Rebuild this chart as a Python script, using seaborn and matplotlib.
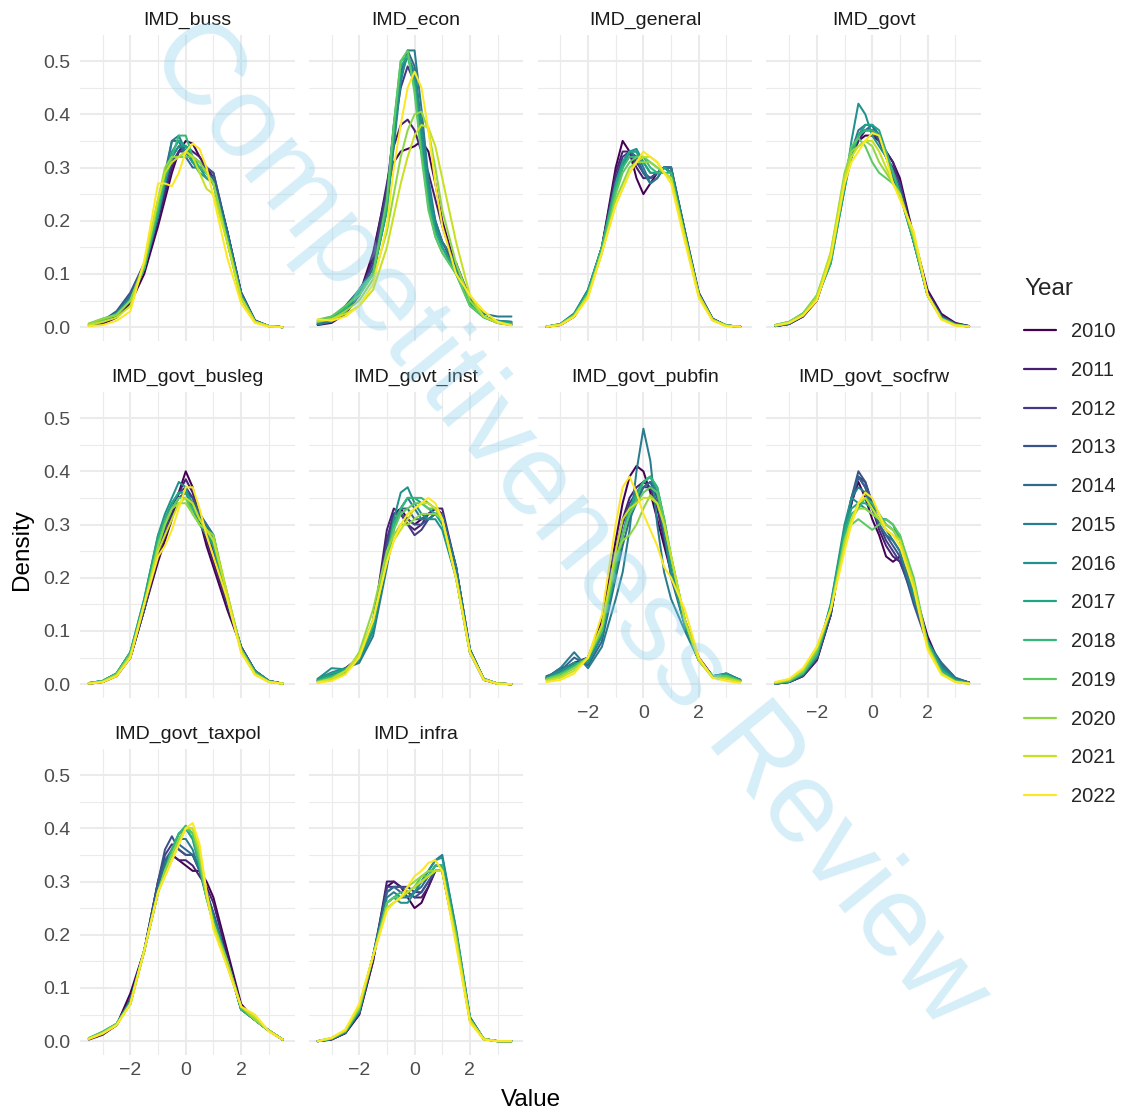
import matplotlib
matplotlib.use("Agg")
import matplotlib.pyplot as plt
from matplotlib.lines import Line2D
import numpy as np
import pandas as pd
import seaborn as sns

# grille commune des valeurs (axe x) ou la densite est lue
x_grid = [-3.5, -3, -2.5, -2, -1.5, -1, -0.75, -0.5, -0.25, 0, 0.25, 0.5, 0.75, 1, 1.5, 2, 2.5, 3, 3.5]
years = [str(y) for y in range(2010, 2023)]
indicators = ["IMD_buss", "IMD_econ", "IMD_general", "IMD_govt",
              "IMD_govt_busleg", "IMD_govt_inst", "IMD_govt_pubfin", "IMD_govt_socfrw",
              "IMD_govt_taxpol", "IMD_infra"]

# une ligne par annee (2010 -> 2022)
buss = [
    [.003, .006, .018, .045, .10, .19, .24, .29, .33, .35, .345, .32, .30, .28, .18, .065, .012, .002, 0],
    [.004, .008, .022, .055, .11, .20, .25, .30, .33, .34, .33, .32, .30, .28, .18, .065, .012, .002, 0],
    [.004, .01, .026, .06, .11, .21, .26, .31, .33, .33, .32, .31, .30, .29, .18, .06, .012, .002, 0],
    [.005, .012, .03, .065, .12, .21, .27, .32, .34, .33, .31, .30, .30, .29, .18, .065, .013, .002, 0],
    [.004, .01, .028, .06, .11, .22, .29, .35, .35, .32, .30, .30, .29, .28, .18, .065, .012, .002, 0],
    [.004, .01, .025, .055, .11, .21, .28, .35, .36, .33, .31, .30, .29, .27, .17, .06, .011, .002, 0],
    [.005, .012, .026, .055, .11, .21, .27, .32, .34, .34, .32, .30, .28, .27, .17, .06, .011, .002, 0],
    [.006, .014, .025, .05, .11, .22, .28, .33, .35, .34, .31, .29, .28, .27, .17, .06, .011, .002, 0],
    [.006, .016, .024, .05, .11, .22, .28, .32, .36, .36, .32, .30, .29, .27, .16, .055, .01, .002, 0],
    [.006, .014, .024, .05, .115, .23, .29, .32, .32, .32, .32, .31, .29, .27, .16, .055, .01, .002, 0],
    [.007, .016, .022, .05, .12, .24, .30, .32, .32, .33, .32, .31, .29, .27, .16, .055, .01, .002, 0],
    [.004, .01, .018, .04, .12, .24, .29, .31, .32, .33, .32, .29, .26, .25, .16, .055, .01, .002, 0],
    [.002, .004, .012, .03, .125, .27, .27, .265, .29, .33, .345, .335, .30, .245, .13, .045, .008, .001, 0],
]
econ = [
    [.004, .008, .025, .06, .14, .26, .31, .33, .335, .34, .35, .33, .27, .20, .11, .05, .02, .008, .004],
    [.005, .012, .03, .06, .13, .27, .34, .38, .39, .37, .33, .29, .24, .19, .11, .05, .02, .01, .005],
    [.006, .014, .035, .065, .12, .26, .37, .45, .49, .46, .36, .26, .20, .16, .11, .05, .02, .01, .006],
    [.008, .016, .04, .07, .11, .25, .38, .48, .51, .47, .36, .25, .19, .16, .12, .055, .02, .01, .008],
    [.006, .012, .035, .07, .11, .23, .36, .47, .52, .49, .38, .26, .19, .16, .12, .05, .02, .012, .01],
    [.005, .01, .03, .065, .10, .22, .34, .46, .52, .52, .41, .28, .20, .16, .12, .05, .025, .02, .02],
    [.008, .015, .03, .06, .10, .22, .35, .47, .51, .48, .37, .26, .19, .15, .11, .05, .02, .012, .01],
    [.01, .016, .03, .07, .10, .22, .37, .49, .51, .46, .34, .24, .18, .15, .10, .045, .02, .01, .008],
    [.012, .02, .035, .07, .10, .23, .38, .50, .51, .45, .33, .23, .17, .14, .10, .04, .018, .008, .005],
    [.014, .02, .04, .06, .10, .24, .38, .50, .52, .44, .32, .22, .17, .14, .10, .04, .02, .01, .005],
    [.01, .015, .03, .05, .09, .18, .25, .32, .37, .40, .405, .37, .30, .22, .12, .05, .02, .008, .004],
    [.012, .015, .025, .04, .07, .15, .21, .27, .32, .36, .38, .375, .34, .28, .16, .06, .02, .008, .004],
    [.015, .012, .02, .04, .08, .19, .30, .38, .45, .48, .45, .37, .27, .19, .10, .06, .03, .01, .003],
]
general = [
    [.001, .004, .02, .06, .15, .30, .35, .33, .28, .25, .27, .29, .30, .29, .17, .06, .015, .003, .001],
    [.001, .004, .02, .06, .15, .29, .33, .33, .30, .28, .28, .29, .30, .29, .17, .06, .015, .003, .001],
    [.001, .005, .022, .065, .15, .28, .32, .33, .31, .29, .28, .29, .30, .30, .18, .065, .016, .003, .001],
    [.001, .005, .022, .065, .15, .27, .31, .33, .32, .29, .28, .29, .30, .30, .18, .065, .016, .003, .001],
    [.001, .005, .024, .07, .15, .27, .31, .33, .32, .29, .27, .28, .30, .30, .18, .06, .015, .003, .001],
    [.001, .006, .025, .07, .15, .26, .30, .33, .33, .30, .27, .28, .30, .30, .18, .06, .015, .003, .001],
    [.001, .006, .026, .07, .15, .26, .30, .33, .335, .31, .29, .29, .30, .29, .17, .06, .014, .003, .001],
    [.001, .005, .024, .065, .15, .27, .31, .33, .33, .31, .29, .29, .30, .29, .17, .06, .014, .003, .001],
    [.001, .005, .023, .065, .15, .26, .30, .32, .32, .32, .30, .29, .29, .29, .17, .06, .014, .003, .001],
    [.001, .005, .022, .06, .14, .25, .29, .31, .32, .32, .31, .30, .29, .28, .17, .06, .014, .003, .001],
    [.001, .005, .022, .06, .14, .24, .27, .30, .31, .31, .31, .30, .29, .28, .17, .06, .014, .003, .001],
    [.001, .004, .02, .06, .14, .23, .26, .29, .31, .32, .32, .31, .29, .28, .17, .06, .013, .002, .001],
    [.001, .004, .02, .055, .14, .23, .26, .29, .31, .33, .32, .31, .29, .27, .16, .055, .012, .002, .001],
]
govt = [
    [.002, .006, .02, .05, .13, .27, .32, .35, .36, .36, .35, .33, .31, .28, .17, .07, .025, .008, .002],
    [.002, .006, .02, .05, .13, .27, .32, .35, .37, .37, .35, .33, .31, .27, .17, .065, .022, .007, .002],
    [.002, .006, .022, .055, .13, .27, .32, .36, .37, .37, .35, .32, .30, .27, .16, .065, .02, .006, .002],
    [.002, .006, .022, .055, .13, .27, .33, .36, .38, .38, .35, .32, .29, .26, .16, .06, .02, .006, .002],
    [.002, .007, .022, .055, .13, .27, .33, .36, .37, .38, .36, .32, .29, .26, .16, .06, .02, .005, .002],
    [.002, .007, .022, .055, .13, .26, .33, .37, .38, .38, .36, .32, .28, .25, .16, .06, .018, .005, .001],
    [.003, .008, .024, .055, .12, .26, .35, .42, .40, .36, .34, .32, .29, .25, .16, .06, .018, .005, .001],
    [.003, .008, .024, .055, .12, .26, .32, .36, .38, .38, .37, .33, .29, .25, .16, .06, .017, .005, .001],
    [.004, .01, .026, .055, .12, .27, .33, .36, .37, .37, .36, .33, .29, .25, .16, .06, .016, .004, .001],
    [.004, .01, .026, .06, .13, .28, .34, .355, .34, .31, .29, .28, .27, .25, .17, .06, .016, .004, .001],
    [.004, .01, .025, .06, .14, .29, .33, .34, .35, .34, .31, .29, .27, .25, .17, .06, .016, .004, .001],
    [.003, .008, .022, .055, .14, .28, .32, .34, .35, .35, .33, .30, .27, .25, .17, .06, .015, .004, .001],
    [.003, .008, .022, .05, .13, .27, .31, .33, .35, .365, .36, .32, .27, .24, .18, .06, .014, .003, .001],
]
govt_busleg = [
    [.001, .004, .015, .05, .14, .23, .27, .31, .36, .40, .37, .31, .26, .22, .14, .07, .025, .006, .001],
    [.001, .004, .016, .05, .14, .24, .28, .32, .36, .385, .36, .31, .27, .23, .15, .07, .025, .006, .001],
    [.001, .005, .018, .05, .14, .25, .29, .33, .36, .37, .35, .32, .29, .25, .15, .07, .025, .006, .001],
    [.001, .005, .018, .055, .14, .25, .30, .33, .35, .36, .35, .32, .30, .27, .16, .07, .025, .006, .001],
    [.002, .006, .02, .055, .15, .26, .30, .33, .35, .36, .34, .32, .30, .28, .16, .07, .025, .006, .001],
    [.002, .006, .02, .06, .15, .27, .31, .34, .36, .36, .33, .31, .30, .28, .16, .065, .025, .006, .001],
    [.002, .006, .02, .06, .16, .28, .32, .35, .38, .37, .33, .30, .28, .26, .16, .065, .025, .006, .001],
    [.002, .006, .02, .06, .16, .28, .31, .34, .36, .36, .34, .31, .29, .26, .16, .065, .022, .005, .001],
    [.002, .006, .02, .06, .15, .27, .31, .33, .35, .35, .33, .31, .29, .27, .16, .065, .022, .005, .001],
    [.002, .005, .018, .055, .15, .26, .30, .33, .35, .35, .32, .30, .29, .27, .17, .065, .02, .005, .001],
    [.002, .005, .018, .055, .15, .26, .30, .33, .34, .34, .32, .30, .29, .28, .17, .065, .02, .004, .001],
    [.001, .004, .016, .05, .15, .25, .28, .31, .34, .35, .34, .31, .29, .27, .17, .06, .018, .004, .001],
    [.001, .004, .015, .05, .15, .24, .26, .29, .33, .37, .37, .33, .28, .24, .16, .06, .018, .004, .001],
]
govt_inst = [
    [.008, .02, .03, .05, .12, .27, .32, .33, .31, .30, .31, .32, .33, .32, .21, .06, .008, .001, 0],
    [.006, .015, .025, .05, .11, .29, .33, .32, .30, .29, .30, .32, .33, .33, .22, .06, .008, .001, 0],
    [.006, .015, .025, .05, .11, .27, .32, .32, .30, .28, .29, .31, .32, .32, .22, .065, .009, .001, 0],
    [.006, .015, .025, .05, .11, .26, .31, .32, .31, .30, .30, .31, .32, .32, .22, .065, .009, .001, 0],
    [.008, .018, .028, .045, .10, .24, .30, .33, .33, .31, .31, .32, .32, .32, .22, .065, .01, .001, 0],
    [.01, .022, .03, .04, .09, .22, .29, .33, .35, .33, .31, .31, .32, .31, .22, .065, .01, .001, 0],
    [.01, .03, .028, .045, .10, .24, .31, .36, .37, .34, .32, .31, .31, .29, .20, .06, .01, .001, 0],
    [.008, .02, .028, .05, .11, .24, .30, .33, .35, .35, .34, .33, .32, .30, .20, .06, .01, .001, 0],
    [.006, .015, .025, .05, .11, .24, .30, .33, .35, .35, .35, .34, .33, .31, .20, .06, .009, .001, 0],
    [.005, .012, .025, .055, .12, .24, .29, .32, .33, .34, .34, .33, .33, .31, .20, .06, .009, .001, 0],
    [.003, .008, .02, .06, .14, .25, .28, .30, .30, .31, .32, .32, .32, .31, .20, .06, .009, .001, 0],
    [.004, .01, .025, .055, .12, .23, .27, .29, .31, .33, .34, .34, .33, .31, .20, .06, .009, .001, 0],
    [.003, .006, .018, .05, .12, .23, .27, .30, .32, .33, .34, .35, .34, .31, .20, .06, .008, .001, 0],
]
govt_pubfin = [
    [.01, .025, .04, .05, .12, .27, .34, .39, .41, .40, .36, .31, .26, .21, .12, .05, .015, .015, .006],
    [.012, .03, .035, .05, .11, .25, .31, .35, .37, .38, .37, .33, .27, .21, .12, .05, .015, .015, .006],
    [.012, .025, .04, .045, .10, .24, .30, .34, .36, .37, .37, .34, .28, .21, .11, .045, .015, .018, .008],
    [.015, .02, .04, .04, .09, .22, .28, .33, .35, .37, .38, .35, .28, .21, .11, .045, .015, .018, .008],
    [.015, .025, .05, .035, .08, .20, .26, .31, .34, .37, .38, .36, .29, .20, .11, .045, .015, .02, .008],
    [.012, .03, .06, .03, .07, .16, .21, .29, .40, .48, .42, .30, .21, .16, .10, .045, .015, .02, .008],
    [.012, .025, .04, .04, .09, .21, .28, .33, .36, .38, .39, .36, .29, .21, .11, .045, .015, .02, .008],
    [.01, .02, .035, .045, .10, .22, .28, .33, .36, .38, .39, .37, .31, .23, .11, .045, .015, .018, .006],
    [.01, .02, .035, .05, .10, .22, .28, .32, .35, .38, .39, .37, .31, .24, .12, .045, .015, .016, .006],
    [.01, .018, .03, .05, .10, .23, .28, .32, .34, .36, .37, .36, .31, .24, .12, .045, .015, .015, .006],
    [.008, .015, .03, .05, .11, .24, .27, .28, .30, .33, .355, .34, .30, .24, .12, .045, .012, .012, .005],
    [.006, .012, .025, .05, .11, .25, .31, .33, .34, .35, .35, .34, .30, .24, .12, .045, .012, .01, .004],
    [.004, .008, .02, .05, .13, .30, .37, .39, .36, .32, .29, .26, .22, .20, .14, .05, .012, .006, .002],
]
govt_socfrw = [
    [.001, .004, .015, .045, .13, .28, .34, .38, .35, .31, .28, .24, .23, .24, .18, .09, .03, .01, .003],
    [.001, .004, .015, .045, .13, .28, .34, .39, .37, .33, .29, .26, .24, .23, .17, .085, .03, .01, .003],
    [.001, .004, .016, .05, .13, .28, .34, .39, .38, .34, .30, .27, .25, .23, .16, .08, .035, .01, .003],
    [.001, .004, .016, .05, .13, .28, .35, .40, .38, .34, .30, .28, .26, .24, .15, .075, .04, .012, .003],
    [.001, .005, .018, .05, .14, .29, .35, .39, .37, .33, .30, .28, .27, .25, .16, .08, .04, .012, .003],
    [.001, .005, .018, .05, .14, .29, .35, .37, .36, .33, .31, .29, .27, .25, .16, .08, .035, .01, .003],
    [.001, .005, .02, .055, .15, .30, .35, .34, .33, .32, .31, .31, .30, .27, .17, .08, .03, .008, .002],
    [.002, .006, .02, .055, .15, .29, .33, .34, .34, .33, .31, .30, .29, .27, .18, .08, .028, .007, .002],
    [.002, .006, .02, .055, .14, .28, .32, .33, .35, .34, .32, .30, .29, .28, .19, .075, .025, .006, .002],
    [.002, .006, .022, .06, .14, .27, .30, .31, .30, .29, .30, .31, .30, .28, .20, .075, .02, .005, .001],
    [.003, .008, .025, .065, .14, .27, .31, .33, .33, .32, .31, .30, .29, .27, .19, .07, .02, .005, .001],
    [.003, .009, .028, .07, .14, .26, .31, .34, .35, .33, .31, .29, .28, .27, .19, .07, .02, .004, .001],
    [.004, .01, .03, .07, .14, .25, .30, .34, .36, .35, .32, .29, .28, .26, .18, .065, .018, .004, .001],
]
govt_taxpol = [
    [.003, .012, .03, .09, .17, .29, .33, .35, .34, .33, .32, .32, .30, .27, .17, .07, .04, .02, .003],
    [.004, .014, .03, .08, .17, .30, .34, .35, .34, .34, .33, .31, .29, .26, .16, .065, .04, .02, .003],
    [.004, .015, .03, .075, .17, .30, .35, .37, .36, .35, .35, .32, .28, .24, .15, .06, .04, .02, .003],
    [.004, .015, .03, .075, .17, .30, .36, .385, .36, .35, .35, .33, .28, .24, .15, .06, .04, .02, .003],
    [.005, .016, .032, .075, .17, .29, .34, .36, .37, .36, .35, .32, .28, .24, .15, .06, .04, .02, .003],
    [.005, .016, .032, .075, .17, .28, .33, .36, .38, .38, .36, .32, .27, .23, .15, .06, .04, .02, .003],
    [.005, .017, .032, .075, .17, .28, .32, .36, .39, .40, .38, .33, .27, .23, .15, .06, .04, .02, .003],
    [.005, .017, .032, .075, .17, .28, .32, .36, .39, .40, .38, .33, .27, .23, .15, .06, .04, .02, .003],
    [.006, .018, .033, .07, .17, .28, .32, .36, .39, .405, .39, .33, .27, .22, .15, .06, .04, .02, .003],
    [.005, .016, .032, .07, .17, .28, .32, .35, .38, .40, .39, .34, .27, .22, .15, .065, .04, .02, .003],
    [.005, .016, .032, .07, .17, .28, .32, .35, .38, .40, .40, .35, .27, .22, .15, .065, .04, .02, .003],
    [.005, .015, .03, .07, .17, .28, .31, .34, .37, .40, .40, .36, .28, .22, .14, .065, .045, .02, .003],
    [.004, .014, .03, .07, .17, .28, .31, .34, .37, .40, .41, .37, .28, .21, .14, .065, .05, .018, .003],
]
infra = [
    [0, .003, .015, .05, .15, .29, .30, .29, .27, .25, .26, .29, .32, .32, .19, .04, .004, 0, 0],
    [0, .003, .015, .05, .15, .30, .30, .29, .28, .27, .27, .29, .32, .32, .19, .04, .004, 0, 0],
    [0, .004, .016, .055, .16, .29, .29, .29, .29, .28, .28, .30, .32, .32, .19, .04, .004, 0, 0],
    [0, .004, .016, .055, .16, .28, .29, .29, .28, .27, .28, .30, .32, .32, .19, .04, .004, 0, 0],
    [0, .004, .017, .055, .16, .28, .29, .28, .27, .28, .29, .31, .33, .33, .20, .045, .004, 0, 0],
    [0, .004, .017, .055, .16, .27, .28, .27, .27, .28, .30, .32, .34, .35, .21, .045, .004, 0, 0],
    [0, .005, .018, .055, .16, .26, .27, .26, .26, .28, .30, .32, .34, .345, .21, .045, .004, 0, 0],
    [0, .005, .018, .06, .16, .26, .27, .27, .28, .29, .30, .31, .33, .33, .20, .04, .004, 0, 0],
    [0, .005, .019, .06, .16, .26, .27, .28, .28, .29, .30, .31, .33, .33, .20, .04, .004, 0, 0],
    [0, .005, .019, .06, .16, .26, .27, .27, .28, .29, .31, .31, .32, .32, .20, .04, .004, 0, 0],
    [0, .006, .02, .065, .16, .25, .26, .27, .29, .30, .31, .32, .32, .32, .19, .04, .004, 0, 0],
    [0, .006, .02, .065, .16, .25, .26, .27, .28, .29, .30, .31, .32, .32, .19, .04, .004, 0, 0],
    [0, .006, .022, .07, .16, .245, .26, .27, .29, .31, .32, .335, .34, .32, .18, .035, .003, 0, 0],
]

curves = [buss, econ, general, govt, govt_busleg, govt_inst,
          govt_pubfin, govt_socfrw, govt_taxpol, infra]

# format long pour seaborn
rows = []
for name, block in zip(indicators, curves):
    for year, dens in zip(years, block):
        for v, d in zip(x_grid, dens):
            rows.append((name, year, v, d))
df = pd.DataFrame(rows, columns=["Indicator", "Year", "Value", "Density"])

sns.set_theme(style="white")
plt.rcParams["font.family"] = ["Liberation Sans", "DejaVu Sans"]

viridis = [matplotlib.colors.to_hex(c) for c in plt.cm.viridis(np.linspace(0, 1, len(years)))]

g = sns.relplot(data=df, x="Value", y="Density", hue="Year", hue_order=years,
                palette=viridis, col="Indicator", col_order=indicators, col_wrap=4,
                kind="line", estimator=None, linewidth=1.45, legend=False,
                height=3, aspect=0.7, facet_kws={"despine": False})

fig = g.figure
fig.set_size_inches(11.21, 11.17)
fig.subplots_adjust(left=80 / 1121, right=981 / 1121, top=1 - 35 / 1117,
                    bottom=1 - 1055 / 1117, wspace=0.0667, hspace=0.1667)

g.set_titles("{col_name}", size=14, color="#1A1A1A", pad=7)
g.set_axis_labels("", "")

for i, ax in enumerate(g.axes.flat):
    row, col = divmod(i, 4)
    ax.set_xlim(-3.82, 3.93)
    ax.set_ylim(-0.026, 0.549)
    ax.set_xticks([-2, 0, 2])
    ax.set_xticks([-3, -1, 1, 3], minor=True)
    ax.set_xticklabels(["\u22122", "0", "2"])
    ax.set_yticks([0, 0.1, 0.2, 0.3, 0.4, 0.5])
    ax.set_yticks([0.05, 0.15, 0.25, 0.35, 0.45], minor=True)
    ax.set_yticklabels(["0.0", "0.1", "0.2", "0.3", "0.4", "0.5"])
    ax.grid(which="major", color="#EBEBEB", linewidth=1.5)
    ax.grid(which="minor", color="#EBEBEB", linewidth=0.8)
    ax.set_axisbelow(True)
    for s in ax.spines.values():
        s.set_visible(False)
    ax.set_facecolor("white")
    bottom = row == 2 or (row == 1 and col >= 2)
    ax.tick_params(axis="both", which="both", length=0, labelsize=14, labelcolor="#4D4D4D")
    ax.tick_params(axis="x", pad=5, labelbottom=bottom)
    ax.tick_params(axis="y", pad=7, labelleft=(col == 0))

fig.text(22 / 1121, 1 - 550 / 1117, "Density", rotation=90, ha="center", va="center",
         size=17.5, color="black")
fig.text(531 / 1121, 1 - 1100 / 1117, "Value", ha="center", va="center",
         size=17.5, color="black")

handles = [Line2D([0], [0], color=c, linewidth=1.6) for c in viridis]
leg = fig.legend(handles, years, title="Year", loc="center left",
                 bbox_to_anchor=(1016 / 1121, 1 - 542 / 1117), frameon=False,
                 fontsize=14.5, title_fontsize=17.5, labelspacing=0.98, handlelength=1.6,
                 handletextpad=0.75, alignment="left", borderaxespad=0)
leg._legend_box.sep = 16

# filigrane
fig.text(567 / 1121, 1 - 525 / 1117, "Competitiveness Review", rotation=-50.8,
         rotation_mode="anchor", ha="center", va="center", fontsize=83,
         color="#87CEEB", alpha=0.35, zorder=10)

fig.savefig("out.png", dpi=100)
